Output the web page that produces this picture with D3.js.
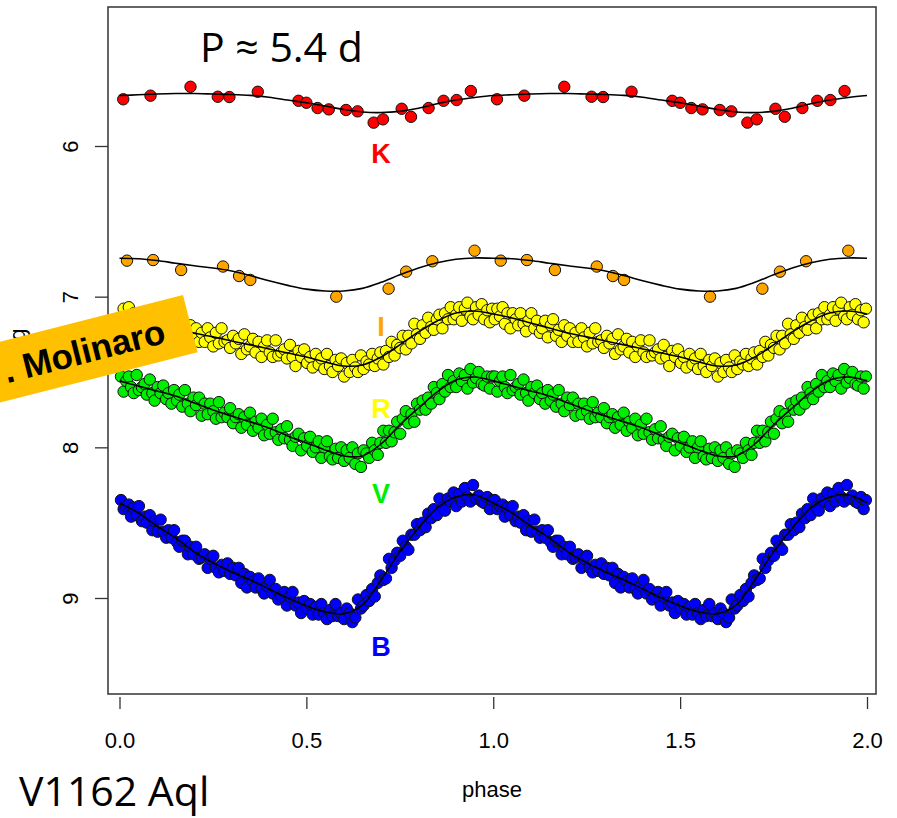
<!DOCTYPE html>
<html>
<head>
<meta charset="utf-8">
<title>V1162 Aql light curves</title>
<style>
  body { margin: 0; background: #ffffff; }
  svg { display: block; }
  .tick-label { font-family: "Liberation Sans", Arial, sans-serif; font-size: 22px; fill: #000; }
  .band-label { font-family: "Liberation Sans", Arial, sans-serif; font-size: 27px; font-weight: bold; }
  .big { font-family: "Open Sans", sans-serif; fill: #000; }
</style>
<script src="https://d3js.org/d3.v7.min.js"></script>
</head>
<body>
<svg id="chart" width="897" height="818"></svg>
<script>
// ---- data (phase 0..1, repeated once for phase 1..2) ----
var xTicks = [0.0, 0.5, 1.0, 1.5, 2.0];
var yTicks = [6, 7, 8, 9];

// K band
var kPhase = [0.01, 0.083, 0.19, 0.263, 0.294, 0.37, 0.479, 0.50, 0.53, 0.56, 0.606, 0.637, 0.68, 0.705, 0.755, 0.78, 0.827, 0.867, 0.902, 0.94];
var kMag   = [5.69, 5.666, 5.607, 5.673, 5.675, 5.64, 5.70, 5.713, 5.748, 5.757, 5.761, 5.77, 5.845, 5.823, 5.753, 5.806, 5.748, 5.70, 5.695, 5.635];

// I band
var iPhase = [0.02, 0.09, 0.165, 0.277, 0.32, 0.35, 0.58, 0.72, 0.767, 0.837, 0.95];
var iMag   = [6.761, 6.757, 6.823, 6.80, 6.863, 6.889, 7.0, 6.947, 6.834, 6.765, 6.695];

// R, V, B share the same observation phases
var obsPhase = [
  0.004,0.011,0.018,0.025,0.031,0.038,0.046,0.052,0.060,0.067,
  0.073,0.081,0.088,0.094,0.102,0.110,0.117,0.125,0.131,0.139,
  0.146,0.154,0.160,0.168,0.175,0.183,0.190,0.198,0.205,0.213,
  0.220,0.228,0.236,0.243,0.251,0.258,0.266,0.273,0.281,0.289,
  0.296,0.304,0.311,0.319,0.326,0.334,0.341,0.349,0.357,0.364,
  0.372,0.380,0.387,0.395,0.402,0.410,0.418,0.425,0.433,0.441,
  0.448,0.456,0.463,0.471,0.479,0.486,0.494,0.502,0.510,0.517,
  0.525,0.533,0.540,0.548,0.555,0.563,0.570,0.578,0.585,0.593,
  0.601,0.608,0.616,0.623,0.631,0.638,0.646,0.653,0.661,0.668,
  0.676,0.683,0.691,0.698,0.706,0.713,0.721,0.728,0.736,0.743,
  0.751,0.758,0.766,0.773,0.781,0.789,0.796,0.804,0.811,0.819,
  0.826,0.834,0.841,0.849,0.856,0.864,0.871,0.879,0.886,0.894,
  0.901,0.909,0.916,0.924,0.931,0.939,0.946,0.954,0.961,0.969,
  0.976,0.984,0.991,0.997];

var rMag = [
  7.15,7.08,7.13,7.07,7.18,7.11,7.21,7.11,7.15,7.19,
  7.11,7.18,7.23,7.16,7.11,7.21,7.16,7.24,7.21,7.16,
  7.27,7.19,7.15,7.26,7.22,7.30,7.19,7.26,7.21,7.30,
  7.24,7.30,7.21,7.27,7.33,7.24,7.31,7.21,7.30,7.29,
  7.34,7.26,7.31,7.28,7.38,7.25,7.35,7.33,7.28,7.37,
  7.30,7.40,7.33,7.29,7.37,7.40,7.29,7.39,7.37,7.35,
  7.41,7.32,7.40,7.46,7.36,7.40,7.35,7.44,7.40,7.47,
  7.38,7.45,7.41,7.48,7.38,7.46,7.50,7.42,7.46,7.41,
  7.53,7.44,7.50,7.42,7.47,7.50,7.39,7.48,7.43,7.45,
  7.38,7.46,7.41,7.37,7.45,7.36,7.40,7.30,7.39,7.32,
  7.34,7.26,7.35,7.26,7.31,7.18,7.25,7.28,7.19,7.24,
  7.14,7.20,7.22,7.15,7.12,7.21,7.11,7.15,7.07,7.15,
  7.12,7.07,7.16,7.08,7.04,7.13,7.15,7.07,7.12,7.05,
  7.15,7.09,7.17,7.08];

var vMag = [
  7.53,7.63,7.56,7.53,7.60,7.64,7.52,7.62,7.60,7.58,
  7.65,7.55,7.64,7.69,7.60,7.64,7.59,7.68,7.64,7.71,
  7.62,7.69,7.65,7.73,7.62,7.71,7.76,7.67,7.72,7.67,
  7.79,7.71,7.78,7.71,7.76,7.81,7.70,7.80,7.77,7.80,
  7.74,7.84,7.80,7.78,7.87,7.80,7.85,7.77,7.89,7.83,
  7.87,7.81,7.92,7.85,7.91,7.81,7.90,7.95,7.88,7.94,
  7.86,7.95,7.99,7.93,7.91,8.02,7.94,7.99,7.93,8.03,
  8.00,7.96,8.07,8.00,7.96,8.06,8.08,8.01,8.07,8.00,
  8.09,8.02,8.07,8.00,8.11,8.04,8.13,8.02,8.04,8.07,
  7.97,8.02,8.05,7.97,7.89,7.97,7.89,7.96,7.90,7.83,
  7.91,7.81,7.76,7.84,7.78,7.83,7.71,7.75,7.69,7.75,
  7.67,7.71,7.60,7.64,7.68,7.58,7.63,7.52,7.60,7.56,
  7.60,7.51,7.56,7.52,7.61,7.48,7.57,7.54,7.50,7.58,
  7.59,7.53,7.61,7.53];

var bMag = [
  8.35,8.41,8.39,8.38,8.46,8.40,8.45,8.39,8.49,8.46,
  8.50,8.45,8.55,8.49,8.56,8.48,8.56,8.60,8.55,8.60,
  8.55,8.63,8.66,8.62,8.62,8.71,8.66,8.71,8.66,8.74,
  8.73,8.71,8.80,8.74,8.72,8.80,8.83,8.78,8.82,8.77,
  8.84,8.80,8.85,8.80,8.90,8.84,8.93,8.86,8.89,8.93,
  8.87,8.94,8.97,8.92,8.88,8.97,8.94,9.01,8.99,8.96,
  9.05,8.99,8.96,9.05,9.03,9.10,9.02,9.07,9.04,9.11,
  9.06,9.11,9.04,9.10,9.14,9.08,9.12,9.04,9.12,9.10,
  9.14,9.07,9.10,9.16,9.13,9.01,9.07,9.05,8.98,9.02,
  8.94,8.99,8.90,8.85,8.88,8.87,8.74,8.80,8.75,8.70,
  8.72,8.62,8.66,8.68,8.58,8.58,8.51,8.55,8.50,8.53,
  8.44,8.47,8.41,8.45,8.34,8.40,8.42,8.34,8.36,8.30,
  8.39,8.31,8.36,8.27,8.33,8.36,8.25,8.34,8.32,8.36,
  8.37,8.33,8.41,8.35];

// fitted template curves, read at phase steps of 0.05
var fitPhase = [0,0.05,0.10,0.15,0.20,0.25,0.30,0.35,0.40,0.45,0.50,0.55,0.60,0.65,0.70,0.75,0.80,0.85,0.90,0.95];
var kFit = [5.665,5.66,5.655,5.652,5.652,5.655,5.658,5.664,5.676,5.695,5.713,5.735,5.758,5.774,5.778,5.77,5.75,5.72,5.695,5.678];
var iFit = [6.745,6.748,6.760,6.778,6.795,6.810,6.830,6.860,6.895,6.925,6.950,6.962,6.962,6.945,6.905,6.855,6.810,6.775,6.752,6.743];
var rFit = [7.115,7.141,7.175,7.208,7.241,7.267,7.294,7.32,7.347,7.374,7.40,7.433,7.46,7.453,7.40,7.32,7.234,7.161,7.108,7.095];
var vFit = [7.559,7.593,7.626,7.659,7.705,7.752,7.792,7.831,7.871,7.924,7.971,8.017,8.057,8.057,7.977,7.851,7.739,7.632,7.553,7.533];
var bFit = [8.369,8.435,8.522,8.601,8.694,8.767,8.827,8.88,8.94,9.0,9.052,9.092,9.105,9.046,8.88,8.694,8.535,8.402,8.329,8.316];

var bands = [
  {name: "K", phase: kPhase, mag: kMag, fit: kFit, color: "#ff0000", labelY: 163},
  {name: "I", phase: iPhase, mag: iMag, fit: iFit, color: "#ffa500", labelY: 336},
  {name: "R", phase: obsPhase, mag: rMag, fit: rFit, color: "#ffff00", labelY: 418},
  {name: "V", phase: obsPhase, mag: vMag, fit: vFit, color: "#00ee00", labelY: 503},
  {name: "B", phase: obsPhase, mag: bMag, fit: bFit, color: "#0000ff", labelY: 656}
];

// ---- layout ----
var svg = d3.select("#chart");
var box = {left: 108, top: 7, right: 876, bottom: 694};

var x = d3.scaleLinear().domain([0, 2]).range([119.5, 867]);
var y = d3.scaleLinear().domain([6, 9]).range([146, 598]);   // magnitudes grow downward

// frame
svg.append("rect")
  .attr("x", box.left).attr("y", box.top)
  .attr("width", box.right - box.left).attr("height", box.bottom - box.top)
  .attr("fill", "none").attr("stroke", "#333").attr("stroke-width", 1.5);

// x axis
var xAxis = svg.append("g").attr("transform", "translate(0," + (box.bottom + 3) + ")")
  .call(d3.axisBottom(x).tickValues(xTicks).tickFormat(d3.format(".1f")).tickSize(12).tickSizeOuter(0));
xAxis.select(".domain").remove();
xAxis.selectAll("line").attr("stroke", "#333").attr("stroke-width", 1.3);
xAxis.selectAll("text").attr("class", "tick-label").attr("font-size", null).attr("font-family", null)
  .attr("y", 0).attr("dy", null).attr("transform", "translate(0,51)");

// y axis
var yAxis = svg.append("g").attr("transform", "translate(" + box.left + ",0)")
  .call(d3.axisLeft(y).tickValues(yTicks).tickFormat(d3.format("d")).tickSize(13).tickSizeOuter(0));
yAxis.select(".domain").remove();
yAxis.selectAll("line").attr("stroke", "#333").attr("stroke-width", 1.3);
yAxis.selectAll("text").attr("class", "tick-label").attr("font-size", null).attr("font-family", null)
  .attr("x", null).attr("dy", null).attr("text-anchor", "middle")
  .attr("transform", "translate(-30,0) rotate(-90)");

// axis titles
svg.append("text").attr("class", "tick-label")
  .attr("x", 492).attr("y", 797).attr("text-anchor", "middle").text("phase");
svg.append("text").attr("class", "tick-label")
  .attr("transform", "translate(25,350) rotate(-90)").attr("text-anchor", "middle").text("mag");

// ---- marks ----
var line = d3.line()
  .x(function(d) { return x(d[0]); })
  .y(function(d) { return y(d[1]); })
  .curve(d3.curveCatmullRom.alpha(0.5));

bands.forEach(function(b) {
  var pts = [];
  for (var c = 0; c < 2; c++) {
    for (var i = 0; i < b.phase.length; i++) pts.push([b.phase[i] + c, b.mag[i]]);
  }
  svg.append("g").selectAll("circle")
    .data(pts)
    .enter().append("circle")
      .attr("cx", function(d) { return x(d[0]); })
      .attr("cy", function(d) { return y(d[1]); })
      .attr("r", 5.7)
      .attr("fill", b.color)
      .attr("stroke", "#111")
      .attr("stroke-width", 1);

  var curve = [];
  for (var c2 = 0; c2 < 2; c2++) {
    for (var j = 0; j < fitPhase.length; j++) curve.push([fitPhase[j] + c2, b.fit[j]]);
  }
  curve.push([2, b.fit[0]]);
  svg.append("path")
    .datum(curve)
    .attr("d", line)
    .attr("fill", "none")
    .attr("stroke", "#000")
    .attr("stroke-width", 1.6);

  svg.append("text").attr("class", "band-label")
    .attr("x", 381).attr("y", b.labelY)
    .attr("text-anchor", "middle")
    .attr("fill", b.color)
    .text(b.name);
});

// ---- annotations ----
svg.append("text").attr("class", "big")
  .attr("x", 200).attr("y", 62).attr("font-size", 41).text("P \u2248 5.4 d");
svg.append("text").attr("class", "big")
  .attr("x", 19).attr("y", 806).attr("font-size", 41).text("V1162 Aql");

var banner = svg.append("g").attr("transform", "translate(183,295) rotate(-14.3)");
banner.append("rect")
  .attr("x", -260).attr("y", 0).attr("width", 260).attr("height", 59)
  .attr("fill", "#ffc000");
banner.append("text")
  .attr("x", -27).attr("y", 42)
  .attr("text-anchor", "end")
  .attr("font-family", "'Liberation Sans', Arial, sans-serif")
  .attr("font-weight", "bold")
  .attr("font-size", 35)
  .attr("fill", "#000")
  .text(". Molinaro");
</script>
</body>
</html>
